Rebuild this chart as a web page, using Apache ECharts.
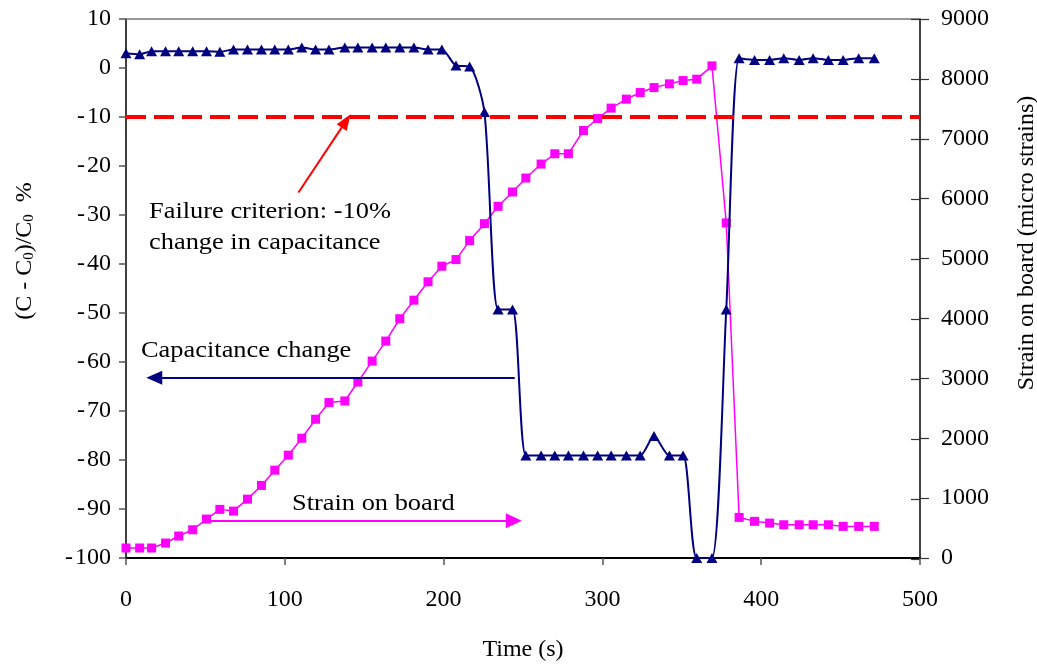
<!DOCTYPE html>
<html>
<head>
<meta charset="utf-8">
<script src="https://cdn.jsdelivr.net/npm/echarts@6/dist/echarts.min.js"></script>
<style>
  html, body { margin: 0; padding: 0; background: #fff; }
  #chart { width: 1037px; height: 667px; }
</style>
</head>
<body>
<div id="chart"></div>
<script>
// Sample times (s), shared by both series
const times = [0, 8.6, 16.1, 24.9, 33.2, 42.0, 50.7, 59.1, 67.7, 76.5,
  85.3, 93.7, 102.2, 110.7, 119.4, 127.8, 137.8, 146.0, 155.0, 163.6,
  172.4, 181.3, 190.2, 198.9, 207.8, 216.4, 225.7, 234.3, 243.4, 251.8,
  261.4, 270.0, 278.6, 288.1, 297.0, 305.5, 315.1, 323.8, 332.5, 342.2,
  350.8, 359.4, 369.0, 378.0, 386.1, 395.8, 405.3, 414.2, 423.9, 432.7,
  442.3, 451.6, 461.4, 471.2];

// Capacitance change (C - C0)/C0 in %
const capacitance = [3.0, 2.8, 3.4, 3.4, 3.4, 3.4, 3.4, 3.3, 3.8, 3.8,
  3.8, 3.8, 3.8, 4.2, 3.8, 3.8, 4.2, 4.2, 4.2, 4.2,
  4.2, 4.2, 3.8, 3.8, 0.5, 0.3, -9.0, -49.3, -49.3, -79.1,
  -79.1, -79.1, -79.1, -79.1, -79.1, -79.1, -79.1, -79.1, -75.1, -79.1,
  -79.1, -100, -100, -49.3, 2.0, 1.65, 1.65, 2.0, 1.65, 2.0,
  1.65, 1.65, 2.0, 2.0];

// Strain on board (micro strains)
const strain = [167, 167, 167, 250, 367, 472, 650, 812, 783, 983,
  1212, 1467, 1717, 2000, 2317, 2595, 2622, 2938, 3288, 3622,
  3995, 4305, 4612, 4872, 4983, 5300, 5583, 5872, 6112, 6345,
  6578, 6750, 6750, 7138, 7338, 7512, 7662, 7772, 7855, 7917,
  7972, 7995, 8217, 5595, 678, 612, 583, 555, 555, 555,
  555, 528, 528, 528];

// Axis ranges and tick steps: [min, max, interval]
const timeRange = [0, 500, 100];
const capRange = [-100, 10, 10];
const strainRange = [0, 9000, 1000];

// Failure threshold (%)
const failureLevel = -10;

const FONT = 'Liberation Serif';
const FS = 24;
const STRETCH = 1.1;
const chart = echarts.init(document.getElementById('chart'), null, { renderer: 'canvas' });

const capData = times.map((t, i) => [t, capacitance[i]]);
const strainData = times.map((t, i) => [t, strain[i]]);

const labelStyle = { fontFamily: FONT, fontSize: FS, color: '#000' };
const plainNumber = v => String(v).replace('-', '-\u200A');

const gridBox = { left: 126, right: 117, top: 19, bottom: 108 };

function note(text, x, y) {
  return {
    type: 'text', x: x, y: y, scaleX: STRETCH, silent: true,
    style: { text: text, font: FS + 'px ' + FONT, fill: '#000', align: 'left', verticalAlign: 'middle' }
  };
}

chart.setOption({
  animation: false,
  backgroundColor: '#fff',
  grid: [Object.assign({}, gridBox), Object.assign({}, gridBox)],
  xAxis: [
    {
      type: 'value', gridIndex: 0, position: 'bottom',
      min: timeRange[0], max: timeRange[1], interval: timeRange[2],
      axisLine: { onZero: false, lineStyle: { color: '#000', width: 2 } },
      axisTick: { inside: false, length: 7, lineStyle: { color: '#555', width: 1.5 } },
      axisLabel: Object.assign({ margin: 30, formatter: plainNumber }, labelStyle),
      splitLine: { show: false },
      name: 'Time (s)', nameLocation: 'middle', nameGap: 80,
      nameTextStyle: labelStyle
    },
    {
      type: 'value', gridIndex: 0, position: 'top',
      min: timeRange[0], max: timeRange[1], interval: timeRange[2],
      axisLine: { onZero: false, lineStyle: { color: '#777', width: 1.5 } },
      axisTick: { show: false }, axisLabel: { show: false }, splitLine: { show: false }
    },
    {
      type: 'value', gridIndex: 1, position: 'bottom', show: false,
      min: timeRange[0], max: timeRange[1]
    }
  ],
  yAxis: [
    {
      type: 'value', gridIndex: 0, position: 'left',
      min: capRange[0], max: capRange[1], interval: capRange[2],
      axisLine: { show: true, onZero: false, lineStyle: { color: '#000', width: 1.5 } },
      axisTick: { show: true, inside: false, length: 7, lineStyle: { color: '#555', width: 1.5 } },
      axisLabel: Object.assign({ margin: 15, formatter: plainNumber }, labelStyle),
      splitLine: { show: false }
    },
    {
      type: 'value', gridIndex: 0, position: 'right',
      min: strainRange[0], max: strainRange[1], interval: strainRange[2],
      axisLine: { show: true, onZero: false, lineStyle: { color: '#000', width: 1.5 } },
      axisTick: { show: true, inside: false, length: 9, lineStyle: { color: '#333', width: 1.2 } },
      axisLabel: Object.assign({ margin: 21, formatter: plainNumber }, labelStyle),
      splitLine: { show: false }
    },
    {
      // inner half of the crossing ticks on the strain axis
      type: 'value', gridIndex: 1, position: 'right',
      min: strainRange[0], max: strainRange[1], interval: strainRange[2],
      axisLine: { show: false, onZero: false },
      axisTick: { show: true, inside: true, length: 9, lineStyle: { color: '#333', width: 1.2 } },
      axisLabel: { show: false },
      splitLine: { show: false }
    }
  ],
  series: [
    {
      name: 'Capacitance change',
      type: 'line',
      xAxisIndex: 0, yAxisIndex: 0,
      data: capData,
      smooth: 0.25,
      symbol: 'triangle',
      symbolSize: [11, 10],
      itemStyle: { color: '#000080' },
      lineStyle: { color: '#000080', width: 2 },
      z: 3,
      markLine: {
        silent: true,
        animation: false,
        label: { show: false },
        emphasis: { disabled: true },
        data: [
          [
            { coord: [timeRange[0], failureLevel], symbol: 'none',
              lineStyle: { color: '#ff0000', width: 4, type: [20, 8] } },
            { coord: [timeRange[1], failureLevel], symbol: 'none' }
          ],
          [
            { coord: [108.6, -25.4], symbol: 'none',
              lineStyle: { color: '#ff0000', width: 2, type: 'solid' } },
            { coord: [138.6, -10.8], symbol: 'triangle', symbolSize: [12, 16] }
          ],
          [
            { coord: [244.8, -63.2], symbol: 'none',
              lineStyle: { color: '#000080', width: 2, type: 'solid' } },
            { coord: [17.8, -63.2], symbol: 'triangle', symbolSize: [14, 16] }
          ]
        ]
      }
    },
    {
      name: 'Strain on board',
      type: 'line',
      xAxisIndex: 0, yAxisIndex: 1,
      data: strainData,
      smooth: false,
      symbol: 'rect',
      symbolSize: 9,
      itemStyle: { color: '#ff00ff' },
      lineStyle: { color: '#ff00ff', width: 1.5 },
      z: 2,
      markLine: {
        silent: true,
        animation: false,
        label: { show: false },
        emphasis: { disabled: true },
        data: [
          [
            { coord: [53, 622], symbol: 'none',
              lineStyle: { color: '#ff00ff', width: 2, type: 'solid' } },
            { coord: [244.2, 622], symbol: 'triangle', symbolSize: [15, 16] }
          ]
        ]
      }
    }
  ],
  graphic: [
    note('Failure criterion: -10%', 149, 212),
    note('change in capacitance', 149, 243),
    note('Capacitance change', 141, 351),
    note('Strain on board', 292, 504),
    {
      type: 'text', x: 25, y: 251, rotation: Math.PI / 2, silent: true,
      style: {
        text: '(C - C{s|0})/C{s|0}  %',
        font: FS + 'px ' + FONT, fill: '#000',
        align: 'center', verticalAlign: 'middle',
        rich: { s: { fontFamily: FONT, fontSize: 15, fill: '#000', verticalAlign: 'bottom', padding: [7, 0, 0, 0] } }
      }
    },
    {
      type: 'text', x: 1027, y: 243, rotation: Math.PI / 2, silent: true,
      style: { text: 'Strain on board (micro strains)', font: FS + 'px ' + FONT, fill: '#000',
               align: 'center', verticalAlign: 'middle' }
    }
  ]
});
</script>
</body>
</html>
